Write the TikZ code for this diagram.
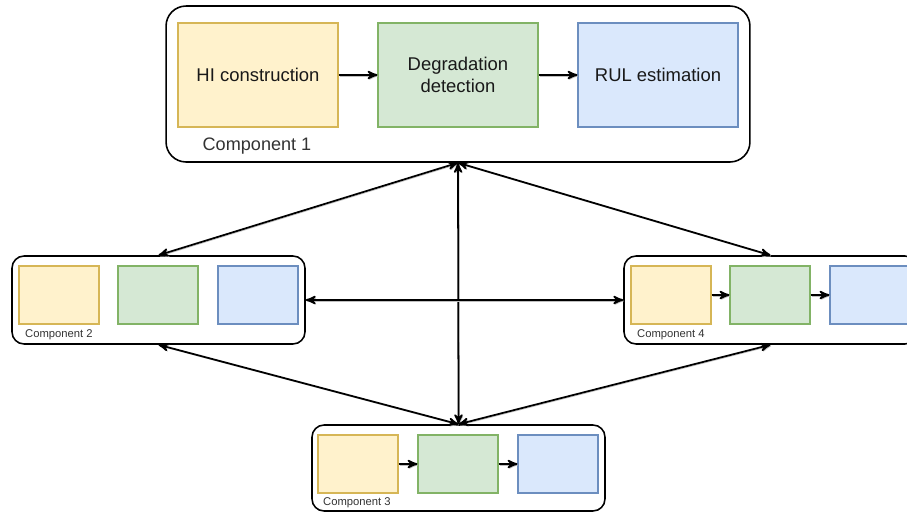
\documentclass[tikz,border=0pt]{standalone}
\usepackage{fontspec}
\setmainfont{Liberation Sans}
\usepackage{tikz}
\usetikzlibrary{arrows}

\definecolor{hifill}{HTML}{FFF2CC}
\definecolor{hidraw}{HTML}{D6B656}
\definecolor{ddfill}{HTML}{D5E8D4}
\definecolor{dddraw}{HTML}{82B366}
\definecolor{rulfill}{HTML}{DAE8FC}
\definecolor{ruldraw}{HTML}{6C8EBF}
\definecolor{labelgray}{HTML}{333333}

\begin{document}
\begin{tikzpicture}[x=0.02cm, y=-0.02cm, >=stealth',
        comp/.style={draw=black, line width=0.9pt, rounded corners=0.24cm, inner sep=0pt,
            minimum width=5.86cm, minimum height=1.76cm},
        hibox/.style={draw=hidraw, fill=hifill, line width=0.6pt, inner sep=0pt, align=center},
        ddbox/.style={draw=dddraw, fill=ddfill, line width=0.6pt, inner sep=0pt, align=center},
        rulbox/.style={draw=ruldraw, fill=rulfill, line width=0.6pt, inner sep=0pt, align=center},
        small/.style={minimum width=1.6cm, minimum height=1.16cm},
        big/.style={minimum width=3.2cm, minimum height=2.08cm, font=\fontsize{10.5}{12.5}\selectfont, text=black!90},
        complabel/.style={text=labelgray, inner sep=0pt},
        shadowed/.style={preaction={draw=black!25, transform canvas={shift={(0.6pt,-0.6pt)}}}},
        link/.style={<->, line width=1pt, shadowed},
        step arrow/.style={->, line width=1pt, shadowed}]
    \clip (0,0) rectangle (907,514);
    \useasboundingbox (0,0) rectangle (907,514);

    % component 1
    \node[draw=black, line width=0.9pt, rounded corners=0.4cm, inner sep=0pt,
        minimum width=11.68cm, minimum height=3.12cm] (comp1) at (458,84) {};
    \node[hibox, big] (hi1) at (258,75) {HI construction};
    \node[ddbox, big] (dd1) at (458,75) {Degradation\\detection};
    \node[rulbox, big] (rul1) at (658,75) {RUL estimation};
    \node[complabel, font=\fontsize{10.3}{12}\selectfont] (lab1) at (257,146) {Component 1};
    \draw[step arrow] (hi1) -- (dd1);
    \draw[step arrow] (dd1) -- (rul1);

    % component 2
    \node[comp] (comp2) at (158.5,300) {};
    \node[hibox, small] (hi2) at (59,295) {};
    \node[ddbox, small] (dd2) at (158,295) {};
    \node[rulbox, small] (rul2) at (258,295) {};
    \node[complabel, font=\fontsize{6.4}{8}\selectfont] (lab2) at (59,335) {Component 2};

    % component 4
    \node[comp] (comp4) at (770.5,300) {};
    \node[hibox, small] (hi4) at (671,295) {};
    \node[ddbox, small] (dd4) at (770,295) {};
    \node[rulbox, small] (rul4) at (870,295) {};
    \node[complabel, font=\fontsize{6.4}{8}\selectfont] (lab4) at (671,335) {Component 4};
    \draw[step arrow] (hi4) -- (dd4);
    \draw[step arrow] (dd4) -- (rul4);

    % component 3
    \node[comp, minimum height=1.72cm] (comp3) at (458.5,468) {};
    \node[hibox, small] (hi3) at (358,464) {};
    \node[ddbox, small] (dd3) at (458,464) {};
    \node[rulbox, small] (rul3) at (558,464) {};
    \node[complabel, font=\fontsize{6.4}{8}\selectfont] (lab3) at (357,503) {Component 3};
    \draw[step arrow] (hi3) -- (dd3);
    \draw[step arrow] (dd3) -- (rul3);

    % links between components
    \draw[link] (comp1.south) -- (comp2.north);
    \draw[link] (comp1.south) -- (comp4.north);
    \draw[link] (comp1.south) -- (comp3.north);
    \draw[link] (comp2.east) -- (comp4.west);
    \draw[link] (comp2.south) -- (comp3.north);
    \draw[link] (comp4.south) -- (comp3.north);
\end{tikzpicture}
\end{document}
